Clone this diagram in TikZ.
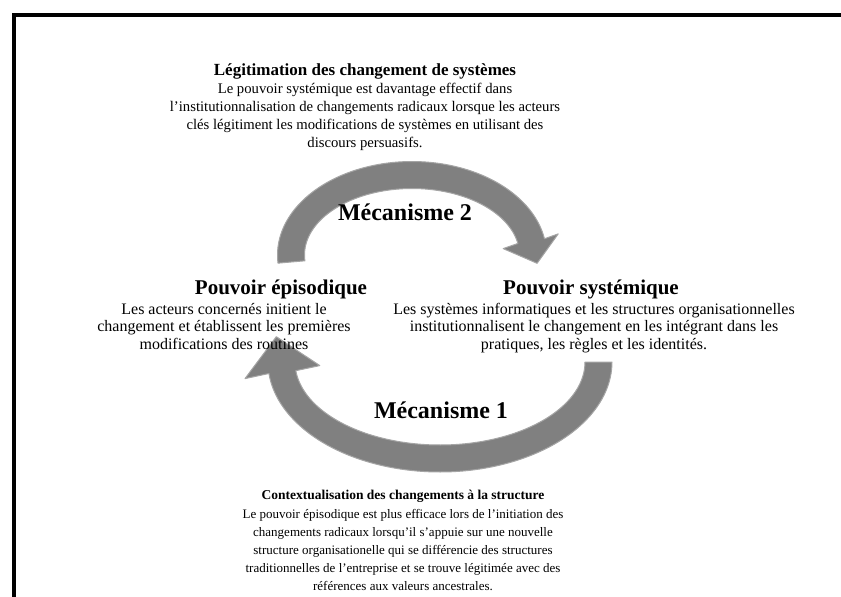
\documentclass[tikz,border=0pt]{standalone}
\usepackage{fontspec}
\setmainfont{Liberation Serif}
\definecolor{arrowfill}{RGB}{128,128,128}
\definecolor{arrowedge}{RGB}{165,165,165}
\begin{document}
\begin{tikzpicture}[x=1pt,y=-1pt,
  every node/.style={inner sep=0pt, outer sep=0pt},
  toptitle/.style={anchor=base, font=\fontsize{17}{19}\selectfont\bfseries},
  bottitle/.style={anchor=base, font=\fontsize{13.5}{16}\selectfont\bfseries},
  topbody/.style={anchor=north, align=center, font=\fontsize{14.7}{18}\selectfont},
  botbody/.style={anchor=north, align=center, font=\fontsize{13}{18}\selectfont},
  sidehead/.style={anchor=base, font=\fontsize{21}{24}\selectfont\bfseries},
  sidebody/.style={anchor=north, align=center, font=\fontsize{16}{17.6}\selectfont},
  mechlabel/.style={anchor=base, font=\fontsize{24}{28}\selectfont\bfseries},
  arrowband/.style={fill=arrowfill, draw=arrowedge, line width=1pt, line join=round}
]
\useasboundingbox (0,0) rectangle (841,597);
\fill[white] (0,0) rectangle (841,597);
% frame
\draw[line width=4.6pt] (13.8,597) -- (13.8,15) -- (841,15);

% top curved arrow (Mecanisme 2)
\coordinate (t-wout) at (558.2,233.9);
\coordinate (t-tip) at (537.1,263.3);
\coordinate (t-win) at (503.2,248.6);
\path[arrowband]
  plot[domain=175:350, samples=90] ({412+134.5*cos(\x)},{255+93.5*sin(\x)})
  -- (t-wout) -- (t-tip) -- (t-win)
  -- plot[domain=350:175, samples=90] ({412+107.5*cos(\x)},{255+66.5*sin(\x)})
  -- cycle;

% bottom curved arrow (Mecanisme 1)
\coordinate (b-wout) at (245.0,378.6);
\coordinate (b-tip) at (276.3,336.7);
\coordinate (b-win) at (319.8,365.6);
\path[arrowband]
  plot[domain=0:174, samples=90] ({440+172*cos(\x)},{362+110*sin(\x)})
  -- (b-wout) -- (b-tip) -- (b-win)
  -- plot[domain=174:0, samples=90] ({440+145*cos(\x)},{362+83*sin(\x)})
  -- cycle;

% top block
\node[toptitle] (legtitle) at (365,75) {Légitimation des changement de systèmes};
\node[topbody] (legbody) at (365,80.4) {\strut Le pouvoir systémique est davantage effectif dans\\
l'institutionnalisation de changements radicaux lorsque les acteurs\\
clés légitiment les modifications de systèmes en utilisant des\\
discours persuasifs.};

\node[mechlabel] (mech2) at (405,220) {Mécanisme 2};

% left block
\node[sidehead] (epishead) at (281,294) {Pouvoir épisodique};
\node[sidebody] (episbody) at (224,301.7) {\strut Les acteurs concernés initient le\\
changement et établissent les premières\\
modifications des routines};

% right block
\node[sidehead] (systhead) at (591,294) {Pouvoir systémique};
\node[sidebody] (systbody) at (594,301.7) {\strut Les systèmes informatiques et les structures organisationnelles\\
institutionnalisent le changement en les intégrant dans les\\
pratiques, les règles et les identités.};

\node[mechlabel] (mech1) at (441,418) {Mécanisme 1};

% bottom block
\node[bottitle] (ctxtitle) at (403,499) {Contextualisation des changements à la structure};
\node[botbody] (ctxbody) at (403,505.4) {\strut Le pouvoir épisodique est plus efficace lors de l'initiation des\\
changements radicaux lorsqu'il s'appuie sur une nouvelle\\
structure organisationelle qui se différencie des structures\\
traditionnelles de l'entreprise et se trouve légitimée avec des\\
références aux valeurs ancestrales.};
\end{tikzpicture}
\end{document}
